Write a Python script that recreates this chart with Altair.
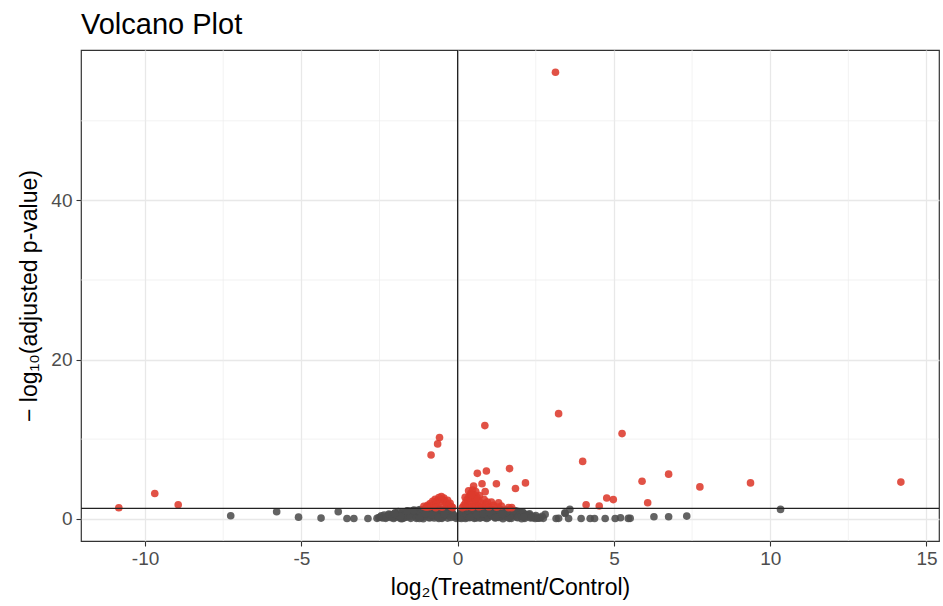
import altair as alt
import pandas as pd

# ---- data ----
red_x = [3.13, 3.23, 0.87, 5.26, -0.58, -0.64, -0.85, 4.00, 1.66, 0.92, 0.63, 6.75, 5.90,
         14.18, 9.37, 2.17, 0.78, 1.24, 7.75, 1.85, 0.88, 4.77, 4.98, 6.08, 4.11, 4.53,
         -10.84, -9.69, -8.94,
         -1.08, -1.00, -0.96, -0.92, -0.88, -0.84, -0.80, -0.76, -0.72, -0.68, -0.64, -0.60,
         -0.56, -0.52, -0.48, -0.44, -0.40, -0.36, -0.32, -0.28, -0.24, -0.20, -0.16, -0.70, -0.50,
         0.15, 0.20, 0.25, 0.28, 0.30, 0.33, 0.36, 0.40, 0.42, 0.45, 0.48, 0.50, 0.51, 0.53,
         0.55, 0.58, 0.60, 0.62, 0.65, 0.68, 0.70, 0.75, 0.80, 0.85, 0.90, 0.95, 1.00, 1.08,
         1.15, 1.25, 1.31, 1.40, 1.63, 1.73, 0.40, 0.46, 0.35, 0.57, 0.24, 0.44]
red_y = [56.1, 13.2, 11.7, 10.7, 10.2, 9.4, 8.0, 7.2, 6.3, 6.0, 5.7, 5.6, 4.7,
         4.6, 4.5, 4.5, 4.4, 4.4, 4.0, 3.8, 3.4, 2.6, 2.4, 2.0, 1.75, 1.6,
         1.38, 3.17, 1.76,
         1.55, 1.45, 1.70, 1.50, 1.90, 1.60, 2.20, 1.75, 2.45, 2.00, 2.30, 2.65,
         2.10, 2.80, 2.40, 2.60, 2.20, 1.85, 2.30, 1.70, 1.95, 1.50, 1.40, 1.40, 1.45,
         1.40, 1.70, 2.00, 1.50, 2.40, 1.80, 2.80, 2.20, 3.20, 2.60, 3.60, 1.60, 4.10, 3.00,
         2.10, 3.40, 1.75, 2.70, 2.30, 1.50, 2.90, 2.00, 1.60, 2.40, 1.80, 2.10, 1.50, 2.10,
         1.70, 1.45, 2.00, 1.60, 1.40, 1.40, 2.60, 1.45, 3.50, 2.50, 2.70, 3.00]

grey_x = [-7.26, -5.79, -5.09, -4.37, -3.82, -3.54, -3.32, -2.87, -2.58, -2.47,
          2.80, 3.15, 3.23, 3.43, 3.44, 3.55, 3.59, 3.95, 4.24, 4.38, 4.72, 5.04, 5.21,
          5.46, 5.52, 6.28, 6.75, 7.33, 10.33, 2.16, 2.32, 2.48, 2.64, 2.56, 2.37,
          -2.40, -2.35, -2.30, -2.25, -2.20, -2.15, -2.10, -2.05, -2.00, -1.95, -1.90,
          -1.85, -1.80, -1.75, -1.70, -1.65, -1.60, -1.55, -1.50, -1.45, -1.40, -1.35,
          -1.30, -1.25, -1.20, -1.15, -1.10, -1.05, -1.00, -0.95, -0.90, -0.85, -0.80,
          -0.75, -0.70, -0.65, -0.60, -0.55, -0.50, -0.45, -0.40, -0.35, -0.30, -0.25,
          -0.20, -0.15, -0.10, -0.05,
          -2.00, -1.80, -1.60, -1.40, -1.20, -1.00, -0.90, -0.80, -0.70, -0.60, -0.50,
          -0.40, -0.30, -0.20, -1.10, -1.30, -0.60, -0.70, -0.95, -1.15, -1.45, -1.65,
          -0.35, -0.45, -0.55, -0.75, -0.85, -1.05, -1.25, -1.55, -1.75, -1.95, -2.15,
          -0.25, -0.15, -0.12, -0.30, -0.40, -0.65,
          -2.52, -2.44, -2.28, -2.18, -2.08, -1.98, -1.88, -1.78, -1.68, -1.58, -1.48,
          -1.38, -1.28, -1.18, -1.08, -0.98, -0.88, -0.78, -0.68, -0.58, -0.48, -0.38,
          -0.28, -0.18, -0.08, -1.72, -1.52, -1.32, -1.12, -0.92, -0.72, -0.52, -0.32,
          -1.42, -1.22, -1.02, -0.82, -0.62, -0.42, -0.22, -1.62, -1.82, -2.02,
          0.05, 0.08, 0.10, 0.12, 0.15, 0.18, 0.20, 0.22, 0.25, 0.28, 0.30, 0.33, 0.36,
          0.40, 0.43, 0.46, 0.50, 0.53, 0.56, 0.60, 0.63, 0.66, 0.70, 0.73, 0.76, 0.80,
          0.83, 0.86, 0.90, 0.93, 0.96, 1.00, 1.04, 1.08, 1.12, 1.16, 1.20, 1.25, 1.30,
          1.35, 1.40, 1.45, 1.50, 1.55, 1.60, 1.65, 1.70, 1.75, 1.80, 1.85, 1.90, 1.95,
          2.00, 2.05, 2.10, 2.15, 2.20, 2.25, 2.30, 2.40, 2.50, 2.60, 2.70,
          0.30, 0.45, 0.60, 0.75, 0.90, 1.05, 1.20, 1.35, 1.50, 1.65, 1.80, 1.95, 0.25,
          0.55, 0.85, 1.15, 1.45, 1.75, 2.05, 0.40, 0.70, 1.00, 1.30, 1.60, 0.20, 0.15,
          0.12, 0.35, 0.50, 0.65,
          0.09, 0.17, 0.27, 0.38, 0.48, 0.58, 0.68, 0.78, 0.88, 0.98, 1.08, 1.18, 1.28,
          1.38, 1.48, 1.58, 1.68, 1.78, 1.88, 1.98, 2.08, 2.18, 2.28, 2.44, 0.32, 0.52,
          0.72, 0.92, 1.12, 1.32, 1.52, 1.72, 0.42, 0.62, 0.82, 1.02, 1.22, 1.42, 1.62,
          1.92, 2.12, 2.34, 2.74]
grey_y = [0.38, 0.88, 0.20, 0.08, 0.88, 0.02, 0.03, 0.02, 0.05, 0.20,
          0.54, 0.02, 0.05, 0.75, 0.66, 0.02, 1.17, 0.03, 0.02, 0.03, 0.02, 0.03, 0.12,
          0.04, 0.05, 0.25, 0.25, 0.33, 1.17, 0.54, 0.40, 0.02, 0.10, 0.08, 0.20,
          0.10, 0.45, 0.05, 0.30, 0.60, 0.15, 0.50, 0.02, 0.75, 0.35, 0.90,
          0.10, 0.65, 0.40, 0.85, 0.20, 1.00, 0.55, 0.05, 0.80, 1.10, 0.35,
          0.95, 0.60, 1.15, 0.15, 0.85, 1.20, 0.45, 1.05, 0.70, 1.25, 0.25,
          0.95, 1.20, 0.55, 1.10, 0.80, 0.05, 1.00, 0.40, 0.75, 1.15, 0.55,
          1.05, 0.30, 0.25, 0.05,
          0.20, 0.00, 0.30, 0.60, 0.40, 0.80, 0.10, 0.60, 0.35, 0.90, 0.60,
          0.80, 0.60, 0.50, 0.00, 0.20, 0.02, 0.75, 0.50, 1.00, 0.40, 0.70,
          0.45, 0.25, 0.35, 0.10, 0.90, 0.30, 0.85, 0.90, 0.05, 0.60, 0.35,
          0.90, 0.60, 0.40, 1.25, 1.20, 1.25,
          0.15, 0.35, 0.22, 0.48, 0.28, 0.55, 0.40, 0.78, 0.50, 0.70, 0.95,
          0.75, 1.05, 0.68, 1.10, 0.90, 1.15, 1.05, 0.85, 1.20, 0.92, 1.10,
          0.95, 0.70, 0.30, 0.12, 0.25, 0.05, 0.35, 0.20, 0.45, 0.15, 0.08,
          1.00, 0.02, 0.62, 0.45, 0.18, 0.55, 0.15, 0.95, 0.30, 0.65,
          0.10, 0.35, 0.50, 0.02, 0.70, 0.25, 0.95, 0.45, 1.10, 0.15, 0.80, 1.20, 0.55,
          1.00, 0.30, 1.25, 0.70, 0.05, 1.15, 0.90, 0.40, 1.20, 0.60, 1.05, 0.20, 0.85,
          1.25, 0.50, 1.10, 0.02, 0.75, 1.20, 0.35, 0.95, 1.15, 0.60, 0.10, 1.00, 0.45,
          1.20, 0.80, 0.25, 1.05, 0.55, 0.90, 0.05, 1.15, 0.40, 0.75, 1.00, 0.20, 0.60,
          0.85, 0.30, 0.70, 0.05, 0.50, 0.25, 0.62, 0.15, 0.40, 0.08, 0.30,
          0.30, 0.60, 0.10, 0.90, 0.40, 0.65, 0.85, 0.30, 0.60, 0.75, 0.35, 0.90, 0.02,
          0.45, 0.15, 0.30, 0.00, 0.85, 0.00, 0.65, 1.20, 0.55, 0.95, 0.20, 0.60, 0.30,
          0.85, 1.25, 1.25, 0.98,
          0.22, 0.85, 0.60, 0.12, 0.88, 0.20, 1.05, 0.35, 0.65, 0.15, 0.50, 0.95, 0.22,
          0.70, 0.38, 1.10, 0.28, 0.55, 0.90, 0.45, 0.80, 0.35, 0.48, 0.28, 1.05, 1.15,
          0.08, 0.92, 0.45, 0.15, 0.78, 0.05, 0.18, 0.50, 0.65, 0.85, 0.15, 0.55, 1.00,
          0.12, 0.18, 0.10, 0.05]

x_major = [-10, -5, 0, 5, 10, 15]
x_minor = [-7.5, -2.5, 2.5, 7.5, 12.5]
y_major = [0, 20, 40]
y_minor = [10, 30, 50]
p_threshold_line = 1.30103  # -log10(0.05)

df = pd.concat([
    pd.DataFrame({"lfc": grey_x, "nlp": grey_y, "sig": "no"}),
    pd.DataFrame({"lfc": red_x, "nlp": red_y, "sig": "yes"}),
], ignore_index=True)

XD = [-12.05, 15.4]
YD = [-2.8, 58.9]
xs = alt.Scale(domain=XD, nice=False, zero=False)
ys = alt.Scale(domain=YD, nice=False, zero=False)

FONT = "Liberation Sans"
LBL = "toString(datum.value)"

xaxis = alt.Axis(values=x_major, title="log₂(Treatment/Control)", grid=True,
                 gridColor="#e8e8e8", gridWidth=1.3, tickColor="#333333", tickSize=5,
                 tickWidth=1.1, domain=False, labelColor="#4d4d4d", labelFontSize=19,
                 labelFont=FONT, labelPadding=3, titleFont=FONT, titleFontSize=23,
                 titleFontWeight="normal", titleColor="black", titlePadding=8,
                 labelExpr=LBL)
yaxis = alt.Axis(values=y_major, title="− log₁₀(adjusted p-value)", grid=True,
                 gridColor="#e8e8e8", gridWidth=1.3, tickColor="#333333", tickSize=5,
                 tickWidth=1.1, domain=False, labelColor="#4d4d4d", labelFontSize=19,
                 labelFont=FONT, labelPadding=4, titleFont=FONT, titleFontSize=23,
                 titleFontWeight="normal", titleColor="black", titlePadding=9,
                 labelExpr=LBL)

minor_x = alt.Chart(pd.DataFrame({"v": x_minor})).mark_rule(
    color="#ececec", strokeWidth=0.7).encode(x=alt.X("v:Q", scale=xs, axis=xaxis))
minor_y = alt.Chart(pd.DataFrame({"v": y_minor})).mark_rule(
    color="#ececec", strokeWidth=0.7).encode(y=alt.Y("v:Q", scale=ys, axis=yaxis))

points = alt.Chart(df).mark_circle(size=58, opacity=0.88).encode(
    x=alt.X("lfc:Q", scale=xs, axis=xaxis),
    y=alt.Y("nlp:Q", scale=ys, axis=yaxis),
    color=alt.Color("sig:N", scale=alt.Scale(domain=["no", "yes"],
                                             range=["#4d4d4d", "#dd3a2c"]), legend=None),
    order=alt.Order("sig:N"),
)

hline = alt.Chart(pd.DataFrame({"v": [p_threshold_line]})).mark_rule(
    color="#222222", strokeWidth=1.3).encode(y=alt.Y("v:Q", scale=ys, axis=yaxis))
vline = alt.Chart(pd.DataFrame({"v": [0]})).mark_rule(
    color="#222222", strokeWidth=1.3).encode(x=alt.X("v:Q", scale=xs, axis=xaxis))

chart = alt.layer(minor_x, minor_y, points, hline, vline).properties(
    width=858, height=491,
    title=alt.TitleParams("Volcano Plot", anchor="start", frame="group", font=FONT,
                          fontSize=29, fontWeight="normal", color="black", offset=9),
    autosize=alt.AutoSizeParams(type="none"),
    padding={"left": 81, "top": 50, "right": 4, "bottom": 65},
).configure_view(stroke="#333333", strokeWidth=1.2)

chart.save("out.html", embed_options={"renderer": "svg", "actions": False})
